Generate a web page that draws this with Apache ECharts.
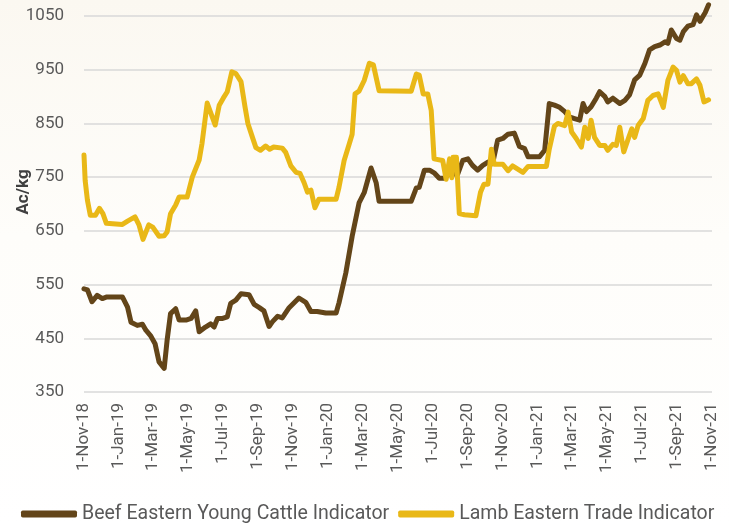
<!DOCTYPE html>
<html>
<head>
<meta charset="utf-8">
<script src="https://cdn.jsdelivr.net/npm/echarts@6/dist/echarts.min.js"></script>
<style>
html,body{margin:0;padding:0;background:#fff;}
#chart{width:729px;height:524px;}
</style>
</head>
<body>
<div id="chart"></div>
<script>
// Tick labels (1st of every second month)
var xTickDates = ['2018-11-01','2019-01-01','2019-03-01','2019-05-01','2019-07-01','2019-09-01','2019-11-01',
  '2020-01-01','2020-03-01','2020-05-01','2020-07-01','2020-09-01','2020-11-01',
  '2021-01-01','2021-03-01','2021-05-01','2021-07-01','2021-09-01','2021-11-01'];
var monthNames = ['Jan','Feb','Mar','Apr','May','Jun','Jul','Aug','Sep','Oct','Nov','Dec'];
var yTicks = [350,450,550,650,750,850,950,1050];

var beefName = 'Beef Eastern Young Cattle Indicator';
var lambName = 'Lamb Eastern Trade Indicator';

var beefDates = ['2018-11-01','2018-11-07','2018-11-15','2018-11-24','2018-12-03','2018-12-11','2019-01-07','2019-01-16','2019-01-22','2019-02-02','2019-02-11','2019-02-17','2019-02-25','2019-03-05','2019-03-12','2019-03-21','2019-03-26','2019-04-01','2019-04-10','2019-04-16','2019-04-28','2019-05-07','2019-05-15','2019-05-21','2019-06-01','2019-06-10','2019-06-16','2019-06-22','2019-07-01','2019-07-09','2019-07-15','2019-07-24','2019-08-02','2019-08-16','2019-08-25','2019-09-03','2019-09-11','2019-09-20','2019-09-26','2019-10-05','2019-10-13','2019-10-25','2019-11-11','2019-11-23','2019-12-02','2019-12-13','2019-12-28','2020-01-15','2020-01-20','2020-02-01','2020-02-12','2020-02-24','2020-03-04','2020-03-16','2020-03-25','2020-03-30','2020-05-25','2020-06-03','2020-06-08','2020-06-17','2020-06-26','2020-07-04','2020-07-13','2020-07-22','2020-07-31','2020-08-14','2020-08-23','2020-09-01','2020-09-09','2020-09-18','2020-09-27','2020-10-06','2020-10-14','2020-10-23','2020-11-01','2020-11-10','2020-11-21','2020-11-30','2020-12-09','2020-12-15','2021-01-04','2021-01-13','2021-01-21','2021-01-30','2021-02-08','2021-02-17','2021-02-25','2021-03-06','2021-03-15','2021-03-21','2021-03-27','2021-04-04','2021-04-13','2021-04-19','2021-04-28','2021-05-03','2021-05-12','2021-05-24','2021-06-02','2021-06-10','2021-06-19','2021-06-28','2021-07-07','2021-07-15','2021-07-24','2021-08-02','2021-08-11','2021-08-16','2021-08-22','2021-08-31','2021-09-06','2021-09-12','2021-09-20','2021-09-29','2021-10-05','2021-10-11','2021-10-20','2021-10-26'];
var beefValues = [542,540,518,530,524,527,527,508,480,474,476,465,455,440,406,394,446,496,505,484,484,487,501,462,471,477,471,487,487,490,515,521,533,531,513,507,501,472,481,491,488,507,525,517,500,500,497,497,516,572,640,702,721,767,739,705,705,730,731,763,763,758,748,748,757,755,781,784,772,763,772,778,775,819,822,830,832,807,803,788,788,800,887,884,880,872,862,859,856,887,872,881,897,909,900,890,897,887,893,903,931,940,962,987,993,996,1002,999,1024,1008,1005,1021,1031,1034,1052,1040,1056,1071];

var lambDates = ['2018-11-01','2018-11-03','2018-11-07','2018-11-12','2018-11-21','2018-11-28','2018-12-04','2018-12-10','2019-01-07','2019-01-16','2019-01-29','2019-02-05','2019-02-12','2019-02-22','2019-03-01','2019-03-12','2019-03-21','2019-03-26','2019-04-01','2019-04-10','2019-04-16','2019-04-30','2019-05-09','2019-05-21','2019-05-26','2019-06-04','2019-06-18','2019-06-25','2019-07-02','2019-07-09','2019-07-17','2019-07-24','2019-08-02','2019-08-09','2019-08-14','2019-08-22','2019-08-28','2019-09-05','2019-09-14','2019-09-21','2019-09-28','2019-10-13','2019-10-19','2019-10-28','2019-11-06','2019-11-13','2019-11-20','2019-11-26','2019-12-02','2019-12-09','2019-12-16','2020-01-15','2020-01-20','2020-01-29','2020-02-07','2020-02-12','2020-02-17','2020-02-24','2020-03-04','2020-03-13','2020-03-20','2020-03-30','2020-05-25','2020-06-03','2020-06-08','2020-06-15','2020-06-23','2020-06-29','2020-07-04','2020-07-19','2020-07-25','2020-07-31','2020-08-04','2020-08-06','2020-08-12','2020-08-17','2020-08-26','2020-09-15','2020-09-23','2020-09-29','2020-10-06','2020-10-12','2020-10-17','2020-11-01','2020-11-10','2020-11-18','2020-11-27','2020-12-06','2020-12-15','2021-01-16','2021-01-21','2021-01-30','2021-02-05','2021-02-17','2021-02-23','2021-03-01','2021-03-09','2021-03-18','2021-03-24','2021-03-30','2021-04-04','2021-04-10','2021-04-19','2021-04-28','2021-05-03','2021-05-12','2021-05-18','2021-05-24','2021-05-31','2021-06-08','2021-06-14','2021-06-19','2021-06-25','2021-07-04','2021-07-12','2021-07-21','2021-07-30','2021-08-08','2021-08-16','2021-08-25','2021-08-31','2021-09-06','2021-09-12','2021-09-20','2021-09-26','2021-10-05','2021-10-11','2021-10-18','2021-10-26'];
var lambValues = [791,744,707,679,679,692,682,664,662,668,676,661,634,661,657,640,641,648,682,698,713,713,750,782,813,888,847,884,897,909,946,943,928,881,850,824,805,800,808,802,806,804,796,771,759,757,740,722,726,693,709,709,731,781,812,830,905,910,930,962,959,911,910,942,940,905,905,874,784,781,746,784,749,787,787,682,680,678,722,737,737,802,774,774,762,771,765,759,770,770,802,845,850,846,871,834,822,806,843,822,856,824,809,809,800,811,809,843,797,822,840,824,846,859,893,902,905,880,930,955,949,927,939,924,924,933,921,890,894];

function parseLocal(s){ var p=s.split('-'); return new Date(+p[0], +p[1]-1, +p[2]).getTime(); }
function pairs(d, v){ var out=[]; for(var i=0;i<d.length;i++){ out.push([parseLocal(d[i]), v[i]]); } return out; }
function fmtDate(val){
  var dt = new Date(val);
  return dt.getDate() + '-' + monthNames[dt.getMonth()] + '-' + String(dt.getFullYear()).slice(2);
}
var tickTimes = xTickDates.map(parseLocal);

var FONT = 'Roboto';
var chart = echarts.init(document.getElementById('chart'), null, {renderer:'canvas'});
chart.setOption({
  backgroundColor: {
    type:'linear', x:0, y:0, x2:0, y2:1,
    colorStops:[{offset:0,color:'#fbf8f1'},{offset:0.45,color:'#fefdfa'},{offset:1,color:'#ffffff'}]
  },
  animation:false,
  textStyle:{fontFamily:FONT},
  grid:{left:84, right:17, top:16, bottom:132, containLabel:false, outerBoundsMode:'none'},
  legend:{
    top:499, left:16, width:713,
    icon:'roundRect', itemWidth:56, itemHeight:7, itemGap:9,
    textStyle:{fontFamily:FONT, fontSize:19.5, color:'#595959'},
    data:[beefName, lambName]
  },
  xAxis:{
    type:'value',
    min: tickTimes[0], max: tickTimes[tickTimes.length-1],
    axisLine:{show:false},
    axisTick:{show:false},
    splitLine:{show:false},
    axisLabel:{
      customValues: tickTimes,
      rotate:90, margin:11, fontSize:17, color:'#595959', fontFamily:FONT,
      formatter:function(v){ return fmtDate(v); },
      hideOverlap:false, showMinLabel:true, showMaxLabel:true
    }
  },
  yAxis:{
    type:'value', min:yTicks[0], max:yTicks[yTicks.length-1], interval:100,
    name:'Ac/kg', nameLocation:'middle', nameGap:52, nameMoveOverlap:false,
    nameTextStyle:{fontFamily:FONT, fontSize:17, fontWeight:'bold', color:'#404040', padding:[0,0,0,24]},
    axisLine:{show:false}, axisTick:{show:false},
    axisLabel:{fontSize:17, color:'#595959', margin:20, fontFamily:FONT,
      formatter:function(v){ return String(v); }},
    splitLine:{show:true, lineStyle:{color:'#d9d9d9', width:1.5}}
  },
  series:[
    {name:beefName, type:'line', showSymbol:false, clip:false,
     data: pairs(beefDates, beefValues),
     itemStyle:{color:'#634519'},
     lineStyle:{color:'#634519', width:5, cap:'round', join:'round'}},
    {name:lambName, type:'line', showSymbol:false, clip:false,
     data: pairs(lambDates, lambValues),
     itemStyle:{color:'#E9B817'},
     lineStyle:{color:'#E9B817', width:5, cap:'round', join:'round'}}
  ]
});
</script>
</body>
</html>
